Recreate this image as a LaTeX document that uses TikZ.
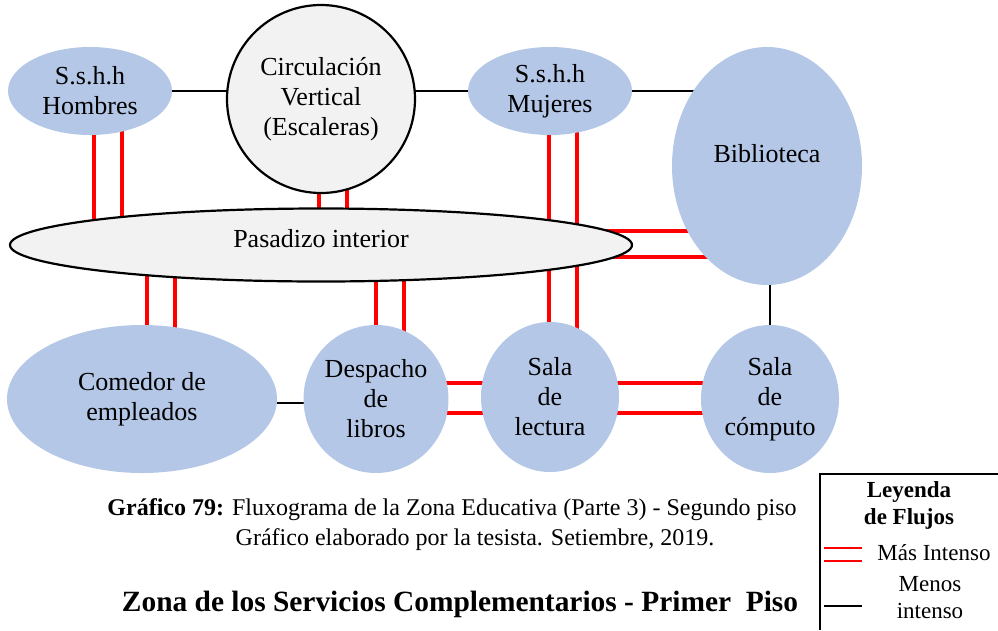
\documentclass[tikz,border=0pt]{standalone}
\usepackage{fontspec}
\setmainfont{Liberation Serif}
\usepackage{xcolor}
\usepackage{tikz}
\usetikzlibrary{shapes.geometric, backgrounds, positioning}
\definecolor{roomblue}{HTML}{B4C7E7}
\definecolor{hubgray}{HTML}{F2F2F2}

\begin{document}
\begin{tikzpicture}[
    x=1pt, y=-1pt,
    % Setting up styles here keeps the drawing code clean
    room/.style = {ellipse, fill=roomblue, inner sep=0pt, align=center, font=\fontsize{26}{30}\selectfont},
    hub/.style  = {ellipse, draw, line width=2.2pt, fill=hubgray, inner sep=0pt, align=center, font=\fontsize{26}{30}\selectfont},
    flow/.style = {red, line width=4.5pt},
    link/.style = {black, line width=1.1pt},
    note/.style = {align=center, font=\fontsize{24}{29}\selectfont}
]
    \useasboundingbox (0,0) rectangle (998,630);

    % 1. Zones of the floor
    \node (hombres)  [room, minimum width=164pt, minimum height=88pt]  at (90,91)   {S.s.h.h\\Hombres};
    \node (escalera) [hub, circle, minimum size=188pt]                  at (321,99)  {Circulación\\Vertical\\(Escaleras)};
    \node (mujeres)  [room, minimum width=164pt, minimum height=88pt]  at (550,91)  {S.s.h.h\\Mujeres};
    \node (biblio)   [room, minimum width=190pt, minimum height=238pt, text depth=26pt] at (767,166) {Biblioteca};
    \node (pasadizo) [hub, minimum width=622pt, minimum height=73pt, text depth=14pt] at (321,245) {Pasadizo interior};
    \node (comedor)  [room, minimum width=270pt, minimum height=148pt] at (142,399) {Comedor de\\empleados};
    \node (despacho) [room, minimum width=140pt, minimum height=148pt] at (376,399) {Despacho\\de\\libros};
    \node (lectura)  [room, minimum width=138pt, minimum height=150pt] at (550,397) {Sala\\de\\lectura};
    \node (computo)  [room, minimum width=138pt, minimum height=148pt] at (770,399) {Sala\\de\\cómputo};

    % 2. Flows, drawn behind the zones
    \begin{scope}[on background layer]
        % less intense
        \draw [link] (hombres.east) -- (hombres.east -| escalera.center);
        \draw [link] (mujeres.west) -- (mujeres.west -| escalera.center);
        \draw [link] (mujeres.east) -- (mujeres.east -| biblio.center);
        \draw [link] ([yshift=-4pt]comedor.east) -- ([yshift=-4pt]comedor.east -| despacho.center);
        \draw [link] (computo.north) -- (computo.north |- biblio.center);

        % more intense
        \draw [flow] ([xshift=4pt]hombres.center)   -- ([xshift=4pt]hombres.center |- pasadizo.center);
        \draw [flow] ([xshift=32pt]hombres.center)  -- ([xshift=32pt]hombres.center |- pasadizo.center);
        \draw [flow] ([xshift=-2pt]escalera.center) -- ([xshift=-2pt]escalera.center |- pasadizo.center);
        \draw [flow] ([xshift=26pt]escalera.center) -- ([xshift=26pt]escalera.center |- pasadizo.center);
        \draw [flow] ([xshift=-1pt]mujeres.center)  -- ([xshift=-1pt]mujeres.center |- pasadizo.center);
        \draw [flow] ([xshift=27pt]mujeres.center)  -- ([xshift=27pt]mujeres.center |- pasadizo.center);
        \draw [flow] ([xshift=-1pt]lectura.center)  -- ([xshift=-1pt]lectura.center |- pasadizo.center);
        \draw [flow] ([xshift=27pt]lectura.center)  -- ([xshift=27pt]lectura.center |- pasadizo.center);
        \draw [flow] ([xshift=5pt]comedor.center)   -- ([xshift=5pt]comedor.center |- pasadizo.center);
        \draw [flow] ([xshift=33pt]comedor.center)  -- ([xshift=33pt]comedor.center |- pasadizo.center);
        \draw [flow] (despacho.center)              -- (despacho.center |- pasadizo.center);
        \draw [flow] ([xshift=28pt]despacho.center) -- ([xshift=28pt]despacho.center |- pasadizo.center);
        \draw [flow] ([yshift=14pt]pasadizo.center) -- ([yshift=14pt]pasadizo.center -| biblio.center);
        \draw [flow] ([yshift=-12pt]pasadizo.center) -- ([yshift=-12pt]pasadizo.center -| biblio.center);
        \draw [flow] ([yshift=16pt]despacho.center) -- ([yshift=16pt]despacho.center -| lectura.center);
        \draw [flow] ([yshift=-14pt]despacho.center) -- ([yshift=-14pt]despacho.center -| lectura.center);
        \draw [flow] ([yshift=16pt]computo.center)  -- ([yshift=16pt]computo.center -| lectura.center);
        \draw [flow] ([yshift=-14pt]computo.center) -- ([yshift=-14pt]computo.center -| lectura.center);
    \end{scope}

    % 3. Caption and title under the diagram
    \node (cap1)  [note] at (452,510) {\textbf{Gráfico 79:} Fluxograma de la Zona Educativa (Parte 3) - Segundo piso};
    \node (cap2)  [note] at (475,540) {Gráfico elaborado por la tesista. Setiembre, 2019.};
    \node (title) [font=\fontsize{29.4}{33}\selectfont\bfseries] at (460,604) {Zona de los Servicios Complementarios - Primer\ \ Piso};

    % 4. Legend in the lower right corner
    \draw [line width=1.4pt] (820,630) -- (820,474) -- (998,474);
    \node (leyenda) [note, font=\fontsize{23}{27}\selectfont\bfseries] at (909,505) {Leyenda\\de Flujos};
    \node (mas)     [note, font=\fontsize{23}{27}\selectfont] at (934,553) {Más Intenso};
    \node (menos)   [note, font=\fontsize{23}{27}\selectfont] at (930,598) {Menos\\intenso};
    \draw [red, line width=1.4pt] ([xshift=-12pt,yshift=5pt]mas.west)  -- ++(-38,0);
    \draw [red, line width=1.4pt] ([xshift=-12pt,yshift=-8pt]mas.west) -- ++(-38,0);
    \draw [link] ([xshift=-12pt]mas.west |- menos.center) ++(0,8) -- ++(-38,0);

\end{tikzpicture}
\end{document}
